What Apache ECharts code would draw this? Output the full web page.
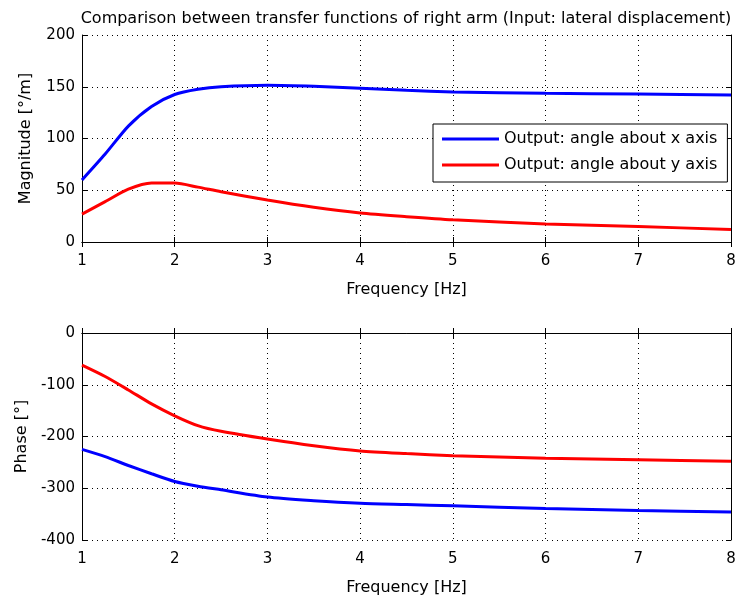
<!DOCTYPE html>
<html>
<head>
<meta charset="utf-8">
<script src="https://cdn.jsdelivr.net/npm/echarts@6/dist/echarts.min.js"></script>
<style>
  html, body { margin: 0; padding: 0; background: #fff; }
  #chart { width: 739px; height: 601px; }
</style>
</head>
<body>
<div id="chart"></div>
<script>
// Frequency samples [Hz]
const freq = [1, 1.25, 1.5, 1.75, 2, 2.25, 2.5, 3, 3.5, 4, 4.5, 5, 6, 7, 8];

// Magnitude [deg/m]
const magX = [60, 85, 112, 131, 142.5, 147.5, 150, 151.5, 150.5, 148.5, 146.5, 145, 143.6, 143, 142];
const magY = [27, 39, 51, 57, 57, 53, 48.5, 40.5, 33.5, 28, 24.5, 21.5, 17.5, 15, 12];

// Phase [deg]
const phaseX = [-225, -239, -256, -272, -287, -296, -303, -317, -324, -329, -331.5, -334, -339, -343, -346];
const phaseY = [-62, -84, -110, -137, -160, -179, -190, -205, -218, -228, -233, -237, -242, -245, -248];

const xTicks = [1, 2, 3, 4, 5, 6, 7, 8];
const magTicks = [0, 50, 100, 150, 200];
const phaseTicks = [-400, -300, -200, -100, 0];

const seriesNames = ['Output: angle about x axis', 'Output: angle about y axis'];

const FONT = 'DejaVu Sans';
const pair = (xs, ys) => xs.map((x, i) => [x, ys[i]]);

const gridLine = { show: true, lineStyle: { color: '#000', type: [1, 4], width: 1 } };
const axisLine = { show: true, lineStyle: { color: '#000', width: 1 } };
const tick = { show: true, inside: true, length: 5, lineStyle: { color: '#000' } };
const label = { color: '#000', fontFamily: FONT, fontSize: 15 };
const nameStyle = { color: '#000', fontFamily: FONT, fontSize: 16 };

function xAxisFor(gridIndex, main) {
  return {
    type: 'value', gridIndex, min: xTicks[0], max: xTicks[xTicks.length - 1], interval: 1,
    position: main ? 'bottom' : 'top',
    name: main ? 'Frequency [Hz]' : '',
    nameLocation: 'middle', nameGap: 40,
    nameTextStyle: nameStyle,
    axisLine, axisTick: tick,
    axisLabel: main ? Object.assign({ margin: 12 }, label) : { show: false },
    splitLine: main ? gridLine : { show: false }
  };
}

function yAxisFor(gridIndex, ticks, name, main) {
  return {
    type: 'value', gridIndex, min: ticks[0], max: ticks[ticks.length - 1], interval: ticks[1] - ticks[0],
    position: main ? 'left' : 'right',
    name: main ? name : '',
    nameLocation: 'middle', nameGap: 48,
    nameTextStyle: nameStyle,
    axisLine, axisTick: tick,
    axisLabel: main ? Object.assign({ margin: 7 }, label) : { show: false },
    splitLine: main ? gridLine : { show: false }
  };
}

function line(name, data, color, xi, yi) {
  return {
    name, type: 'line', data, xAxisIndex: xi, yAxisIndex: yi,
    showSymbol: false, symbol: 'none', smooth: 0.25,
    lineStyle: { color, width: 3 }, itemStyle: { color },
    z: 3
  };
}

const chart = echarts.init(document.getElementById('chart'), null, { renderer: 'canvas' });
chart.setOption({
  backgroundColor: '#fff',
  animation: false,
  title: {
    text: 'Comparison between transfer functions of right arm (Input: lateral displacement)',
    left: 401, top: 6, textAlign: 'center',
    textStyle: { color: '#000', fontFamily: FONT, fontSize: 16, fontWeight: 'normal' }
  },
  legend: {
    data: seriesNames,
    orient: 'vertical',
    left: 433, top: 124,
    padding: [7, 10, 9, 9],
    itemGap: 10,
    itemWidth: 57, itemHeight: 3,
    icon: 'rect',
    backgroundColor: '#fff',
    borderColor: '#000', borderWidth: 1,
    textStyle: { color: '#000', fontFamily: FONT, fontSize: 16, lineHeight: 16 }
  },
  grid: [
    { left: 82, top: 35, width: 649, height: 207, show: false },
    { left: 82, top: 333, width: 649, height: 207, show: false }
  ],
  xAxis: [xAxisFor(0, true), xAxisFor(0, false), xAxisFor(1, true), xAxisFor(1, false)],
  yAxis: [
    yAxisFor(0, magTicks, 'Magnitude [°/m]', true), yAxisFor(0, magTicks, '', false),
    yAxisFor(1, phaseTicks, 'Phase [°]', true), yAxisFor(1, phaseTicks, '', false)
  ],
  series: [
    line(seriesNames[0], pair(freq, magX), '#0000ff', 0, 0),
    line(seriesNames[1], pair(freq, magY), '#ff0000', 0, 0),
    line(seriesNames[0] + ' ', pair(freq, phaseX), '#0000ff', 2, 2),
    line(seriesNames[1] + ' ', pair(freq, phaseY), '#ff0000', 2, 2)
  ]
});
</script>
</body>
</html>
